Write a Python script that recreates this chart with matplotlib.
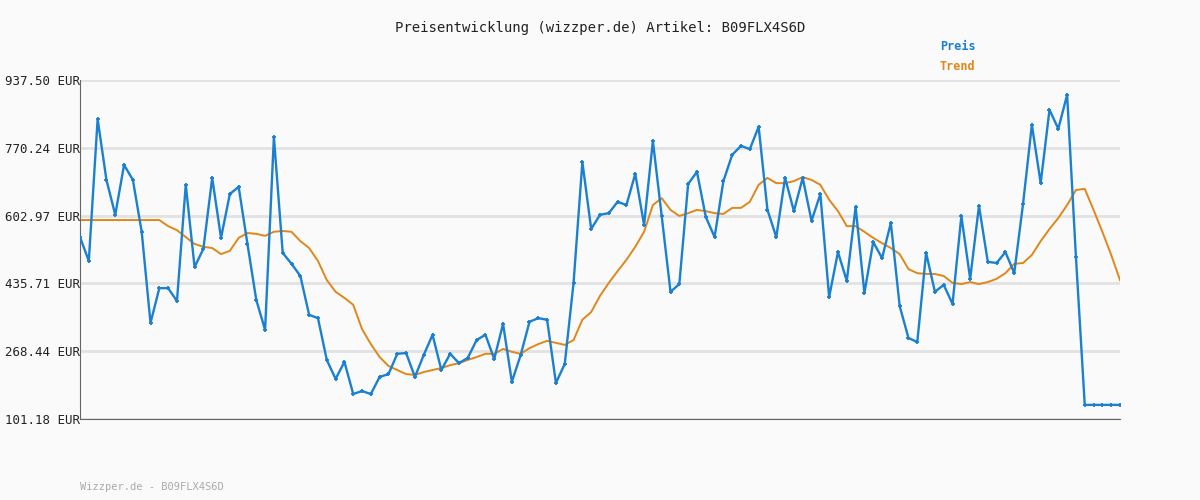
import matplotlib
matplotlib.use("Agg")
import matplotlib.pyplot as plt
import numpy as np

preis = [550, 491, 841, 691, 605, 728, 691, 563, 338, 424,
         424, 392, 679, 476, 521, 696, 548, 656, 674, 533,
         395, 321, 797, 511, 484, 454, 358, 350, 247, 200,
         242, 163, 170, 163, 205, 212, 262, 264, 205, 259,
         309, 222, 262, 239, 252, 296, 309, 249, 336, 193,
         259, 341, 350, 346, 190, 237, 437, 735, 570, 605,
         609, 637, 629, 706, 580, 787, 602, 415, 434, 681,
         711, 600, 550, 688, 753, 775, 767, 822, 617, 550,
         696, 614, 696, 590, 656, 402, 513, 442, 624, 412,
         538, 498, 585, 380, 301, 291, 511, 415, 432, 385,
         602, 447, 627, 489, 486, 513, 461, 632, 827, 683,
         864, 817, 901, 501, 136, 136, 136, 136, 136]

trend = [592, 592, 592, 592, 592, 592, 592, 592, 592, 592,
         577, 567, 550, 533, 526, 523, 508, 516, 548, 560,
         558, 553, 563, 565, 563, 540, 523, 491, 444, 415,
         400, 383, 323, 286, 254, 232, 222, 212, 210, 217,
         222, 227, 234, 239, 247, 254, 262, 262, 274, 267,
         262, 276, 286, 294, 289, 284, 296, 346, 365, 405,
         437, 466, 494, 526, 563, 629, 646, 617, 602, 609,
         617, 614, 609, 607, 622, 622, 637, 679, 696, 683,
         683, 688, 698, 691, 679, 642, 614, 577, 577, 563,
         548, 535, 523, 508, 471, 461, 459, 459, 454, 437,
         434, 439, 434, 439, 447, 461, 484, 486, 506, 540,
         570, 597, 629, 666, 669, 617, 563, 506, 444]

yticks = [101.18, 268.44, 435.71, 602.97, 770.24, 937.50]

font = "DejaVu Sans Mono"
fig = plt.figure(figsize=(12, 5), dpi=100, facecolor="#fafafa")
ax = fig.add_axes([80 / 1200, 81 / 500, 1040 / 1200, 339 / 500])
ax.set_facecolor("#fafafa")
x = np.arange(len(preis))

ax.plot(x, trend, color="#e0871a", lw=1.4, zorder=2)
ax.plot(x, preis, color="#1a80cf", lw=1.7, marker="+", ms=3.5, mew=1.3, zorder=3)

ax.set_xlim(0, len(preis) - 1)
ax.set_ylim(yticks[0], yticks[-1])
ax.set_yticks(yticks)
ax.set_yticklabels([f"{v:.2f} EUR" for v in yticks], fontfamily=font, fontsize=9, color="#222222")
ax.set_xticks([])
ax.tick_params(axis="y", length=0, pad=0)
ax.grid(axis="y", color="#e2e2e2", lw=2)
ax.set_axisbelow(True)
for s in ["top", "right"]:
    ax.spines[s].set_visible(False)
ax.spines["left"].set_color("#666666")
ax.spines["bottom"].set_color("#666666")

fig.text(0.5, 1 - 28 / 500, "Preisentwicklung (wizzper.de) Artikel: B09FLX4S6D",
         ha="center", va="center", fontfamily=font, fontsize=10, color="#222222")
fig.text(940 / 1200, 1 - 46 / 500, "Preis", fontfamily=font, fontsize=8.5,
         fontweight="bold", color="#1a80cf", va="center")
fig.text(940 / 1200, 1 - 67 / 500, "Trend", fontfamily=font, fontsize=8.5,
         fontweight="bold", color="#e0871a", va="center")
fig.text(80 / 1200, 1 - 487 / 500, "Wizzper.de - B09FLX4S6D", fontfamily=font,
         fontsize=7.5, color="#aaaaaa", va="center")

fig.savefig("out.png", dpi=100, facecolor=fig.get_facecolor())
